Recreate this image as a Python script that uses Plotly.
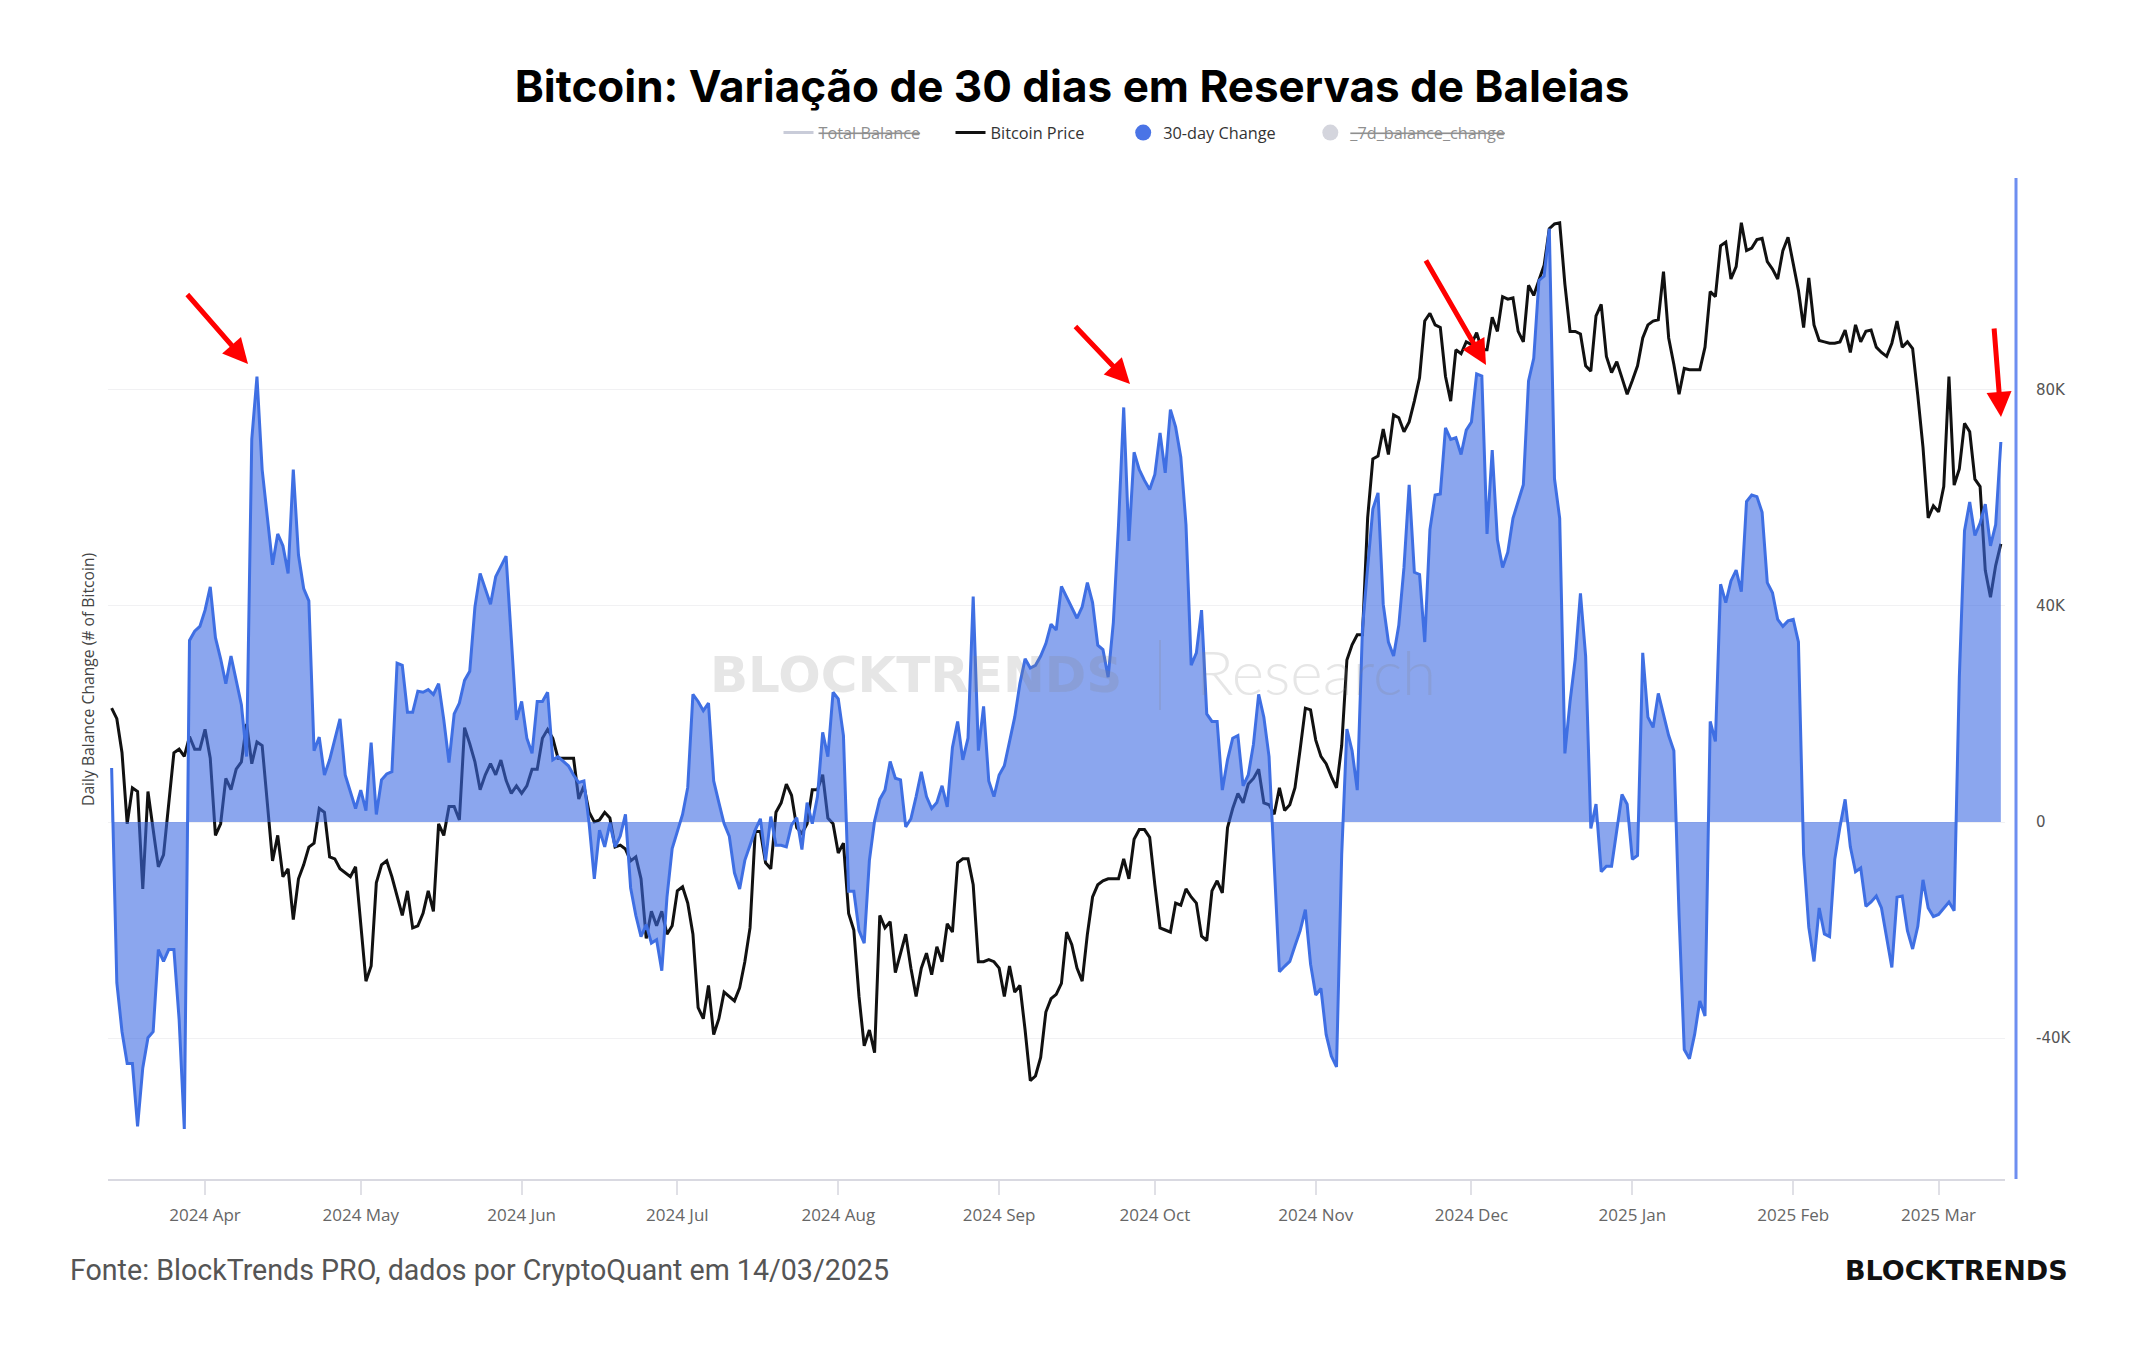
import pandas as pd
import plotly.graph_objects as go

# ---------------- data ----------------
start_date = "2024-03-14"

# 30-day change in whale reserves, thousands of BTC (one entry per day, None = not read)
change_k = [
    10.0, -29.7, -38.8, -44.7, -44.7, -56.3, -45.5, -39.9, -38.8, -23.6,
    -25.8, -23.6, -23.6, -36.5, -56.8, 33.6, 35.3, 36.2, 39.2, 43.5,
    34.1, 30.2, 25.6, 30.7, None, 21.7, 12.1, 70.8, 82.4, 65.2,
    None, 47.6, 53.3, 51.1, 46.0, 65.2, 49.4, 43.2, 40.9, 13.2,
    15.7, 8.7, 11.5, None, 19.1, 8.7, None, 2.5, 5.9, 2.1,
    14.7, 1.4, 7.8, 8.9, 9.3, 29.4, 29.0, 20.3, 20.3, 24.2,
    24.0, 24.5, 23.6, 25.6, 18.9, 11.0, 20.0, 22.0, 26.2, 27.9,
    39.8, 46.0, None, 40.3, 45.4, None, 49.2, None, 18.9, 22.3,
    15.5, 12.7, 22.3, 22.3, 24.0, 11.5, 12.1, None, 10.4, 8.7,
    7.3, 7.6, -0.3, -10.5, -1.5, -4.6, -0.3, -4.6, -2.6, 1.4,
    -12.2, -17.3, -21.2, -19.0, -22.4, -21.8, -27.5, -13.9, -4.9, -1.5,
    1.4, 6.4, 23.6, 22.3, 20.6, 22.0, 7.6, 3.6, -0.3, -2.6,
    -9.4, -12.4, -7.1, -4.3, -1.5, 0.6, -7.1, 1.0, -4.3, -4.3,
    -4.6, -0.6, 0.8, -5.1, 3.6, -0.3, 4.7, 16.6, 12.1, 24.0,
    22.8, 16.0, -12.8, -12.8, -20.1, -22.4, -7.1, 0.2, 4.2, 5.9,
    11.2, 8.1, 7.8, -0.9, 0.6, 4.7, 9.3, 4.7, 2.5, 3.6,
    6.7, 2.8, 13.8, 18.6, 11.5, 15.5, 41.7, 13.2, 21.4, 7.6,
    4.7, 8.7, 10.4, 14.9, 19.4, 25.6, 30.2, 28.5, 29.0, 30.7,
    33.0, 36.6, 35.5, 43.6, 41.6, None, 37.7, 39.8, 44.3, 40.6,
    32.7, 31.9, 26.8, 36.9, 55.0, 76.7, 52.0, 68.4, 65.2, 63.2,
    61.5, 64.3, 72.0, 64.6, 76.3, 73.1, 67.5, 55.0, 29.0, 31.3,
    39.2, 20.0, 18.6, 18.6, 5.9, 11.5, 15.5, 16.0, 6.7, 8.7,
    14.4, 23.6, 19.4, 12.1, -7.1, -27.7, -26.7, -25.8, -22.9, -20.1,
    -16.2, -26.3, -32.0, -30.8, -39.3, -43.3, -45.3, -6.0, 17.2, 13.2,
    5.9, 35.8, 47.1, 57.9, 60.9, 40.3, 33.3, 30.7, 36.4, 47.1,
    62.4, 46.2, 45.8, 33.3, 54.1, 60.5, 60.7, 72.9, 70.8, 71.1,
    68.0, 72.5, 74.0, 82.9, 82.5, 53.3, 68.8, 52.2, 47.1, 49.9,
    56.2, 59.5, 62.4, 81.6, 85.8, 100.2, 101.0, 109.8, 63.5, 56.2,
    12.7, 22.3, 30.2, 42.3, 30.7, -1.2, 3.3, -9.2, -8.2, -8.2,
    -1.5, 5.1, 3.3, -6.9, -6.2, 31.3, 19.4, 17.5, 23.8, 20.0,
    16.0, 13.2, -17.3, -42.1, -43.8, -39.3, -33.1, -35.9, 18.6, 14.9,
    44.0, 40.6, 44.6, 46.6, 42.6, 59.3, 60.5, 60.2, 57.3, 44.3,
    42.4, 37.5, 36.2, 37.2, 37.5, 33.3, -6.0, -19.5, -25.8, -15.9,
    -20.7, -21.2, -6.9, -0.9, 4.2, -4.6, -9.2, -8.5, -15.6, -14.8,
    -13.7, -15.9, -21.2, -26.9, -13.9, -13.7, -20.1, -23.5, -19.3, -10.7,
    -15.9, -17.5, -17.1, -15.9, -14.8, -16.4, 26.8, 53.9, 59.2, 53.0,
    55.3, 58.8, 51.1, 55.0, 70.3,
]

# Bitcoin price, thousands of USD (one entry per day, None = not read)
price_k = [
    72.3, 71.7, 69.8, 66.0, 67.9, 67.7, 62.7, 67.7, 65.7, 63.8,
    64.4, 66.9, 69.8, 70.0, 69.6, 70.7, 70.0, 70.0, 71.1, 69.5,
    65.4, 66.0, 68.4, 67.8, 68.9, 69.3, 71.4, 69.2, 70.4, 70.2,
    67.1, 64.1, 65.4, 63.3, 63.7, 61.2, 63.2, 63.9, 64.8, 65.0,
    66.8, 66.6, 64.3, 64.2, 63.7, 63.5, 63.3, 63.8, 60.8, 58.3,
    59.0, 63.0, 63.9, 64.1, 63.3, 62.4, 61.4, 62.6, 60.8, 60.9,
    61.5, 62.6, 61.6, 66.0, 65.4, 66.9, 66.9, 66.2, 71.2, 70.3,
    69.3, 67.8, 68.6, 69.2, 68.6, 69.4, 68.3, 67.6, 68.0, 67.6,
    68.0, 68.9, 68.9, 70.6, 71.1, 70.6, 69.5, 69.5, None, 69.5,
    67.3, 68.0, 66.6, 66.1, 66.2, 66.6, 66.3, 64.8, 64.9, 64.7,
    64.1, 64.3, 63.2, 60.3, 61.6, 60.9, 61.6, 60.5, 60.9, 62.6,
    62.8, 62.0, 60.5, 57.1, 56.6, 58.1, 55.9, 56.6, 57.8, 57.6,
    57.4, 58.0, 59.2, 60.8, 65.6, 65.6, 64.0, 63.7, 66.6, 67.1,
    68.1, 67.5, 65.8, 65.5, 66.0, 67.8, 67.8, 68.6, 66.3, 66.0,
    64.5, 65.0, 61.5, 60.7, 57.6, 55.4, 56.1, 55.1, 61.4, 60.8,
    61.1, 58.7, 59.6, 60.5, 58.9, 57.6, 58.9, 59.6, 58.6, 59.9,
    59.2, 61.0, 60.6, 64.0, 64.2, 64.2, 62.9, 59.2, 59.2, 59.3,
    59.2, 58.9, 57.6, 59.0, 57.8, 58.1, 56.1, 53.9, 54.1, 54.9,
    56.9, 57.5, 57.7, 58.2, 60.6, 60.0, 58.9, 58.3, 60.5, 62.3,
    62.9, 63.1, 63.2, 63.2, 63.2, 64.2, 63.2, 65.2, 65.7, 65.7,
    65.3, 62.9, 60.8, 60.7, 60.6, 62.0, 61.9, 62.7, 62.3, 62.0,
    60.4, 60.2, 62.6, 63.1, 62.5, 65.8, 66.8, 67.6, 67.1, 68.1,
    68.4, 68.9, 67.1, 67.0, 66.5, 67.9, 66.7, 67.0, 67.9, 70.0,
    72.3, 72.2, 70.5, 69.6, 69.2, 68.5, 67.9, 70.2, 75.1, 76.0,
    76.6, 76.6, 84.0, 88.0, 88.2, 90.1, 88.3, 91.1, 90.9, 89.9,
    90.6, 92.1, 93.8, 98.1, 98.7, 97.8, 97.6, 93.9, 92.1, 95.9,
    95.6, 96.5, 96.3, 97.2, 95.9, 95.9, 98.4, 97.3, 100.0, 99.8,
    99.9, 97.3, 96.5, 100.9, 100.1, 101.3, 102.5, 105.5, 105.9, 106.0,
    101.0, 97.3, 97.3, 97.1, 94.7, 94.3, 98.5, 99.4, 95.4, 94.2,
    95.0, 93.8, 92.6, 93.6, 94.7, 96.8, 97.8, 98.1, 98.2, 102.0,
    96.8, 94.8, 92.6, 94.5, 94.4, 94.4, 94.4, 96.1, 100.4, 100.0,
    104.1, 104.4, 101.4, 102.4, 106.0, 103.7, 103.9, 104.6, 104.7, 102.8,
    102.2, 101.4, 103.7, 104.8, 102.7, 100.5, 97.6, 101.5, 97.8, 96.6,
    96.5, 96.4, 96.4, 96.5, 97.4, 95.7, 97.8, 96.5, 97.3, 97.4,
    96.1, 95.7, 95.4, 96.4, 98.1, 96.1, 96.5, 96.0, 92.5, 88.8,
    84.0, 84.8, 84.4, 86.1, 93.9, 86.2, 87.3, 90.5, 89.9, 86.6,
    86.1, 80.6, 78.9, 80.9, 82.3,
]

change_ticks = [-40000, 0, 40000, 80000]
change_tick_labels = ["-40K", "0", "40K", "80K"]

legend_names = ["Total Balance", "Bitcoin Price", "30-day Change", "_7d_balance_change"]

title_text = "Bitcoin: Variação de 30 dias em Reservas de Baleias"
y_title_text = "Daily Balance Change (# of Bitcoin)"
source_text = "Fonte: BlockTrends PRO, dados por CryptoQuant em 14/03/2025"
brand_text = "BLOCKTRENDS"

# ---------------- build ----------------
dates = pd.date_range(start_date, periods=len(change_k), freq="D")


def keep(values, scale=1000.0):
    xs, ys = [], []
    for d, v in zip(dates, values):
        if v is not None:
            xs.append(d)
            ys.append(v * scale)
    return xs, ys


ch_x, ch_y = keep(change_k)
px_x, px_y = keep(price_k)

W, H = 2144, 1350
ML, MR, MT, MB = 108, 139, 178, 171
PW, PH = W - ML - MR, H - MT - MB


def px_to_paper_x(px):
    return (px - ML) / PW


def px_to_paper_y(py):
    return (H - MB - py) / PH


BLUE_LINE = "#3f6fe3"
BLUE_FILL = "rgba(61,107,227,0.60)"
NB = "\u00a0"  # spacing after a legend entry


def struck(s):
    return "<span style='color:#8f8f8f'><s>" + s + "</s></span>"


fig = go.Figure()

fig.add_trace(go.Scatter(
    x=px_x, y=px_y, mode="lines", yaxis="y",
    line=dict(color="#111111", width=3),
    showlegend=False, hoverinfo="skip",
))
fig.add_trace(go.Scatter(
    x=ch_x, y=ch_y, mode="lines", yaxis="y2",
    line=dict(color=BLUE_LINE, width=3),
    fill="tozeroy", fillcolor=BLUE_FILL,
    showlegend=False, hoverinfo="skip",
))

# legend entries
fig.add_trace(go.Scatter(
    x=[None], y=[None], mode="lines", line=dict(color="#c9ccd9", width=3),
    name=struck(legend_names[0]) + NB * 6))
fig.add_trace(go.Scatter(
    x=[None], y=[None], mode="lines", line=dict(color="#111111", width=3),
    name=legend_names[1] + NB * 8))
fig.add_trace(go.Scatter(
    x=[None], y=[None], mode="markers", marker=dict(color="#4a74e6", size=16),
    name=legend_names[2] + NB * 7))
fig.add_trace(go.Scatter(
    x=[None], y=[None], mode="markers", marker=dict(color="#d4d5dd", size=16),
    name=struck(legend_names[3])))

annotations = []

# y-axis title on the left
annotations.append(dict(
    text=y_title_text, textangle=-90, xref="paper", yref="paper",
    x=px_to_paper_x(88), y=px_to_paper_y(680), xanchor="center", yanchor="middle",
    showarrow=False, font=dict(family="Open Sans", size=15.7, color="#444444"),
))

# watermark
wm_color = "rgba(128,128,128,0.20)"
annotations.append(dict(
    text="BLOCKTRENDS", xref="paper", yref="paper",
    x=px_to_paper_x(916), y=px_to_paper_y(675), xanchor="center", yanchor="middle",
    showarrow=False, font=dict(family="DejaVu Sans", size=50, color=wm_color, weight="bold"),
))
annotations.append(dict(
    text="Research", xref="paper", yref="paper",
    x=px_to_paper_x(1194), y=px_to_paper_y(671), xanchor="left", yanchor="middle",
    showarrow=False, font=dict(family="Lato", size=62, color=wm_color, weight=300),
))

# red arrows: (tip x, tip y, tail dx, tail dy) in pixels
arrows = [(248, 364, -62, -71), (1130, 384, -56, -59), (1486, 365, -61, -106), (2001, 417, -7, -90)]
for tx, ty, dx, dy in arrows:
    annotations.append(dict(
        text="", xref="paper", yref="paper", x=px_to_paper_x(tx), y=px_to_paper_y(ty),
        ax=dx, ay=dy, showarrow=True, arrowhead=2, arrowsize=1, arrowwidth=5,
        arrowcolor="#ff0000", standoff=0, startstandoff=0,
    ))

# footer
annotations.append(dict(
    text=source_text, xref="paper", yref="paper",
    x=px_to_paper_x(68), y=px_to_paper_y(1270), xanchor="left", yanchor="middle",
    showarrow=False, font=dict(family="Roboto", size=28.6, color="#555555"),
))
annotations.append(dict(
    text=brand_text, xref="paper", yref="paper",
    x=px_to_paper_x(2070), y=px_to_paper_y(1270), xanchor="right", yanchor="middle",
    showarrow=False, font=dict(family="DejaVu Sans", size=27, color="#111111", weight="bold"),
))

shapes = [
    # right blue axis line
    dict(type="line", xref="paper", yref="paper",
         x0=px_to_paper_x(2016), x1=px_to_paper_x(2016), y0=0, y1=1,
         line=dict(color="#6e8ef0", width=3)),
    # watermark separator
    dict(type="line", xref="paper", yref="paper",
         x0=px_to_paper_x(1160), x1=px_to_paper_x(1160),
         y0=px_to_paper_y(710), y1=px_to_paper_y(640),
         line=dict(color=wm_color, width=2)),
]

fig.update_layout(
    width=W, height=H,
    margin=dict(l=ML, r=MR, t=MT, b=MB),
    paper_bgcolor="white", plot_bgcolor="white",
    title=dict(
        text=title_text, x=0.5, xanchor="center", xref="container",
        y=1 - 87 / H, yanchor="middle", yref="container",
        font=dict(family="Inter", size=44, color="#000000", weight="bold"),
    ),
    legend=dict(
        orientation="h", x=px_to_paper_x(1145), xanchor="center",
        y=px_to_paper_y(133), yanchor="middle",
        font=dict(family="Open Sans", size=16.3, color="#333333"),
        bgcolor="rgba(0,0,0,0)", itemwidth=30,
    ),
    xaxis=dict(
        type="date",
        range=["2024-03-13 07:12", "2025-03-13 19:12"],
        tick0="2024-04-01", dtick="M1", tickformat="%Y %b",
        showgrid=False, zeroline=False,
        showline=True, linecolor="#d9d9e1", linewidth=2,
        ticks="outside", ticklen=14, tickwidth=1.5, tickcolor="#e0e0e6",
        ticklabelstandoff=6,
        tickfont=dict(family="Open Sans", size=17, color="#666666"),
    ),
    yaxis=dict(
        type="log", range=[4.69794, 5.04063], visible=False,
    ),
    yaxis2=dict(
        overlaying="y", side="right", range=[-66050, 119150],
        tickvals=change_ticks, ticktext=change_tick_labels,
        showgrid=True, gridcolor="#f1f1f3", gridwidth=1,
        zeroline=False, showline=False, ticks="",
        ticklabelstandoff=30,
        tickfont=dict(family="DejaVu Sans", size=15, color="#555555"),
        automargin=False,
    ),
    annotations=annotations,
    shapes=shapes,
)

fig.write_html("out.html")
